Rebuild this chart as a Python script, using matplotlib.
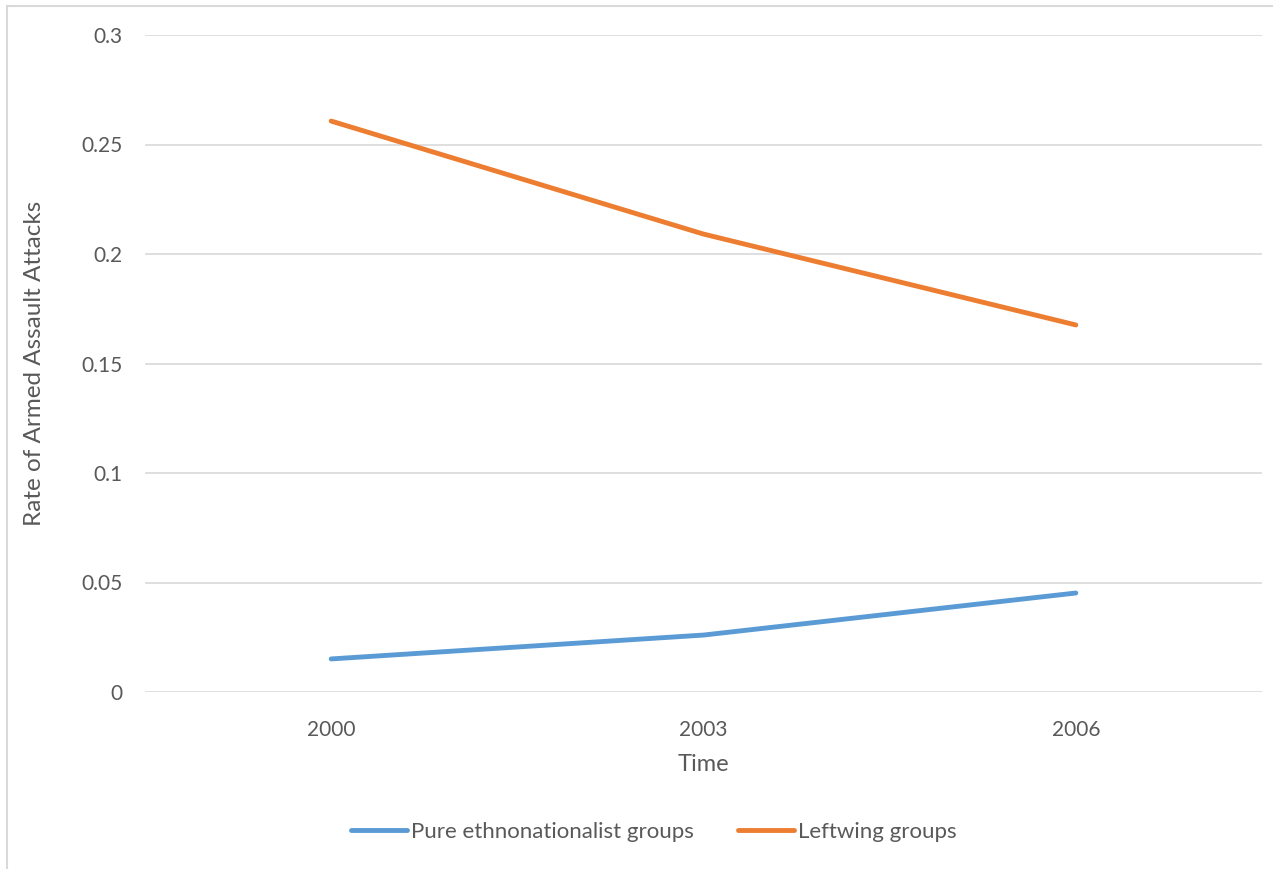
import matplotlib
matplotlib.use("Agg")
import matplotlib.pyplot as plt
from matplotlib.lines import Line2D

plt.rcParams['font.family'] = ['Lato', 'DejaVu Sans']

years = ['2000', '2003', '2006']
ethno = [0.0151, 0.0260, 0.0452]
leftwing = [0.2607, 0.2091, 0.1676]

text_color = '#595959'
grid_color = '#D9D9D9'

W, H = 1273, 869
fig = plt.figure(figsize=(W / 100, H / 100), dpi=100)
ax = fig.add_axes([145 / W, 1 - 692 / H, (1262 - 145) / W, (692 - 35) / H])

x = range(len(years))
ax.plot(x, ethno, color='#5B9BD5', lw=3.5, solid_capstyle='round',
        label='Pure ethnonationalist groups')
ax.plot(x, leftwing, color='#ED7D31', lw=3.5, solid_capstyle='round',
        label='Leftwing groups')

ax.set_xlim(-0.5, 2.5)
ax.set_ylim(0, 0.3)
ax.set_xticks(list(x))
ax.set_xticklabels(years)
yt = [0, 0.05, 0.1, 0.15, 0.2, 0.25, 0.3]
ax.set_yticks(yt)
ax.set_yticklabels(['0', '0.05', '0.1', '0.15', '0.2', '0.25', '0.3'])

for s in ax.spines.values():
    s.set_visible(False)
ax.grid(axis='y', color=grid_color, lw=1.2)
ax.set_axisbelow(True)
ax.tick_params(length=0, labelsize=15, colors=text_color)
ax.tick_params(axis='y', pad=16)
ax.tick_params(axis='x', pad=20)

ax.set_xlabel('Time', fontsize=17, color=text_color, labelpad=10)
ax.set_ylabel('Rate of Armed Assault Attacks', fontsize=17.5, color=text_color,
              labelpad=26)

fig.legend(loc='center', bbox_to_anchor=(654 / W, 1 - 832 / H), ncol=2,
           frameon=False, fontsize=16, handlelength=2.5, handletextpad=0.2,
           columnspacing=2.0, labelcolor=text_color)

# chart area border (left and top edges)
fig.add_artist(Line2D([7 / W, 7 / W], [0, 1 - 6 / H], color=grid_color, lw=1.5))
fig.add_artist(Line2D([7 / W, 1], [1 - 6 / H, 1 - 6 / H], color=grid_color, lw=1.5))

fig.savefig('out.png', dpi=100)
